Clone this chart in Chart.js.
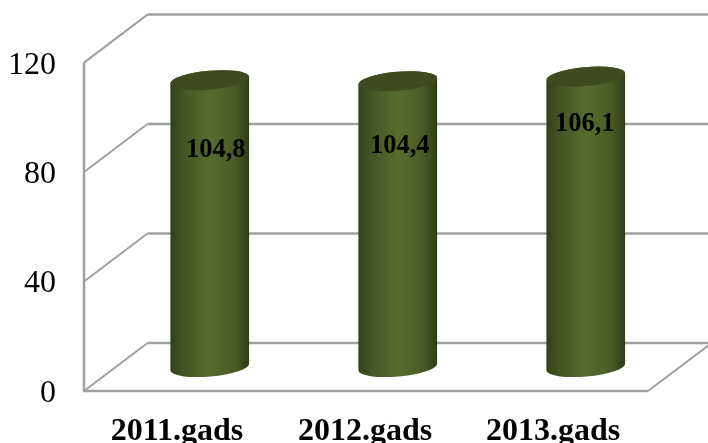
<!DOCTYPE html>
<html>
<head>
<meta charset="utf-8">
<style>
  html, body { margin: 0; background: #fff; overflow: hidden; }
  canvas { display: block; }
</style>
<script src="https://cdn.jsdelivr.net/npm/chart.js@4/dist/chart.umd.js"></script>
</head>
<body>
<canvas id="chart" width="708" height="443"></canvas>
<script>
const categories = ['2011.gads', '2012.gads', '2013.gads'];
const values = [104.8, 104.4, 106.1];
const valueLabels = ['104,8', '104,4', '106,1'];
const yMax = 120;
const yStep = 40;

// fake 3D: how far the back wall sits from the front plane
const DEPTH_X = 63.5, DEPTH_Y = -48;
const GRID_COLOR = '#a0a0a0';
const SERIF = '"Liberation Serif", serif';

function line(ctx, x1, y1, x2, y2) {
    ctx.beginPath();
    ctx.moveTo(x1, y1);
    ctx.lineTo(x2, y2);
    ctx.stroke();
}

const threeD = {
    id: 'threeD',
    // walls and floor, all hung on the y scale ticks
    beforeDatasetsDraw(chart) {
        const { ctx, scales: { x, y }, chartArea: area } = chart;
        ctx.save();
        ctx.strokeStyle = GRID_COLOR;
        y.ticks.forEach(t => {
            const py = y.getPixelForValue(t.value);
            ctx.lineWidth = 2;
            line(ctx, area.left, py, area.left + DEPTH_X, py + DEPTH_Y);
            ctx.lineWidth = 2.5;
            line(ctx, area.left + DEPTH_X, py + DEPTH_Y, chart.width, py + DEPTH_Y);
        });
        ctx.lineWidth = 2.5;
        line(ctx, area.left, area.top, area.left, area.bottom + 1);
        line(ctx, area.left - 1, area.bottom, area.right, area.bottom);
        ctx.lineWidth = 2;
        line(ctx, area.right, area.bottom, area.right + DEPTH_X, area.bottom + DEPTH_Y);
        ctx.restore();
    },
    // replaces the flat bars with cylinders, positions come from the bar elements
    beforeDatasetDraw(chart, args) {
        const { ctx } = chart;
        const rot = -5 * Math.PI / 180;
        const ry = 9.5;
        args.meta.data.forEach((bar, i) => {
            const cx = bar.x + DEPTH_X / 2;
            const top = bar.y + DEPTH_Y / 2;
            const bottom = bar.base + DEPTH_Y / 2;
            const rx = bar.width / 2;

            const grad = ctx.createLinearGradient(cx - rx, 0, cx + rx, 0);
            grad.addColorStop(0, '#333f18');
            grad.addColorStop(0.16, '#445423');
            grad.addColorStop(0.5, '#586c2e');
            grad.addColorStop(0.82, '#4a5a25');
            grad.addColorStop(1, '#303b15');

            ctx.save();
            ctx.beginPath();
            ctx.ellipse(cx, bottom, rx, ry, rot, 0, Math.PI);
            ctx.ellipse(cx, top, rx, ry, rot, Math.PI, 2 * Math.PI);
            ctx.closePath();
            ctx.fillStyle = grad;
            ctx.fill();

            ctx.beginPath();
            ctx.ellipse(cx, top, rx, ry, rot, 0, 2 * Math.PI);
            ctx.fillStyle = '#3f4b1e';
            ctx.fill();

            const shift = chart.options.plugins.threeD.labelShift[i];
            ctx.fillStyle = '#000';
            ctx.font = 'bold 26.5px ' + SERIF;
            ctx.textAlign = 'center';
            ctx.textBaseline = 'middle';
            ctx.fillText(valueLabels[i], cx + shift[0], top + shift[1]);
            ctx.restore();
        });
        return false;
    }
};

new Chart(document.getElementById('chart'), {
    type: 'bar',
    data: {
        labels: categories,
        datasets: [{ data: values, barThickness: 79, backgroundColor: '#586c2e' }]
    },
    options: {
        responsive: false,
        animation: false,
        layout: { padding: { top: 62.6, right: 60, left: 0, bottom: 0 } },
        plugins: {
            legend: { display: false },
            tooltip: { enabled: false },
            threeD: { labelShift: [[6, 70], [2, 65], [-1, 48]] }
        },
        scales: {
            x: {
                grid: { display: false, drawTicks: false },
                border: { display: false },
                afterFit(scale) { scale.height = 52; },
                ticks: {
                    padding: 22,
                    labelOffset: -1,
                    maxRotation: 0,
                    autoSkip: false,
                    color: '#000',
                    font: { family: SERIF, size: 32, weight: 'bold' }
                }
            },
            y: {
                min: 0,
                max: yMax,
                grid: { display: false, drawTicks: false },
                border: { display: false },
                afterFit(scale) { scale.width = 84; },
                ticks: {
                    stepSize: yStep,
                    padding: 28,
                    labelOffset: 2.5,
                    color: '#000',
                    font: { family: SERIF, size: 32 }
                }
            }
        }
    },
    plugins: [threeD]
});
</script>
</body>
</html>
